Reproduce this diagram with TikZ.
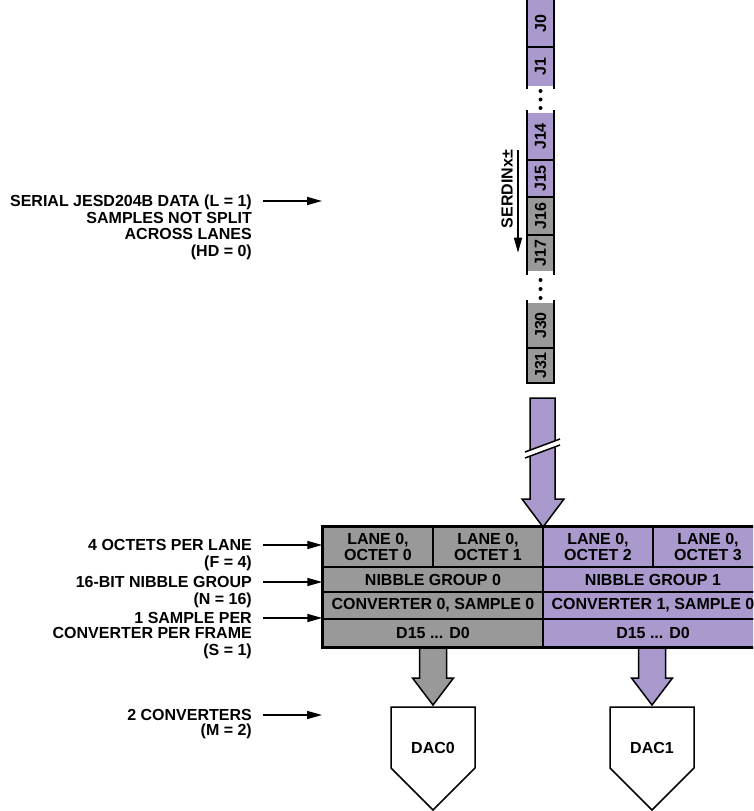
\documentclass[tikz,border=0pt]{standalone}
\usepackage{fontspec}
\setmainfont{Liberation Sans}
\usetikzlibrary{arrows.meta}
\definecolor{lanegray}{RGB}{153,153,153}
\definecolor{lanepurple}{RGB}{170,153,204}
\begin{document}
\begin{tikzpicture}[x=1pt,y=-1pt,
  txt/.style={font=\fontsize{16}{16.5}\selectfont\bfseries},
  lbl/.style={txt, align=right, anchor=north east, inner sep=0pt},
  lblarrow/.style={line width=1.5pt, -{Triangle[length=15pt,width=8pt]}},
  jcell/.style={txt, rotate=90, minimum height=27pt, inner sep=0pt},
  jline/.style={line width=1.5pt},
  tcell/.style={txt, draw=black, line width=1.5pt, inner sep=0pt, align=center},
  fatarrow/.style={draw=black, line width=1.5pt, line join=miter}]
\useasboundingbox (0,0) rectangle (753,811);
\clip (0,0) rectangle (753,811);
\node[jcell, fill=lanepurple, minimum width=47pt] (j0) at (540.5,23.5) {J0};
\node[jcell, fill=lanepurple, minimum width=39pt] (j1) at (540.5,66.5) {J1};
\node[jcell, fill=lanepurple, minimum width=47pt] (j14) at (540.5,136.5) {J14};
\node[jcell, fill=lanepurple, minimum width=37pt] (j15) at (540.5,178.5) {J15};
\node[jcell, fill=lanegray, minimum width=38pt] (j16) at (540.5,216) {J16};
\node[jcell, fill=lanegray, minimum width=36pt] (j17) at (540.5,253) {J17};
\node[jcell, fill=lanegray, minimum width=45pt] (j30) at (540.5,325.5) {J30};
\node[jcell, fill=lanegray, minimum width=35pt] (j31) at (540.5,365.5) {J31};
\draw[jline] (527,0) -- (527,89);
\draw[jline] (554,0) -- (554,89);
\draw[jline] (527,110) -- (527,275);
\draw[jline] (554,110) -- (554,275);
\draw[jline] (527,300) -- (527,383) -- (554,383) -- (554,300);
\draw[jline] (527,47) -- (554,47);
\draw[jline] (527,160) -- (554,160);
\draw[jline] (527,197) -- (554,197);
\draw[jline] (527,235) -- (554,235);
\draw[jline] (527,348) -- (554,348);
\fill (540.5,91) circle (2);
\fill (540.5,99.5) circle (2);
\fill (540.5,108) circle (2);
\fill (540.5,280) circle (2);
\fill (540.5,289) circle (2);
\fill (540.5,298) circle (2);
\node[txt, rotate=90, inner sep=0pt] (serdin) at (507,189) {SERDINx±};
\draw[lblarrow] ([xshift=11pt]serdin.east) -- ++(0,103);
\draw[fatarrow, fill=lanepurple] (530,398) -- (555,398) -- (555,499) -- (564,499) -- (543,527) -- (522,499) -- (530,499) -- cycle;
\fill[white] (525,452) -- (560,439) -- (560,445) -- (525,458) -- cycle;
\draw[line width=1.5pt] (525,452) -- (560,439);
\draw[line width=1.5pt] (525,458) -- (560,445);
\draw[fatarrow, fill=lanegray] (419.5,647) -- (446.5,647) -- (446.5,678) -- (453.5,678) -- (433,705) -- (412.5,678) -- (419.5,678) -- cycle;
\draw[fatarrow, fill=lanepurple] (638.5,647) -- (665.5,647) -- (665.5,678) -- (672.5,678) -- (652,705) -- (631.5,678) -- (638.5,678) -- cycle;
\node[tcell, fill=lanegray, minimum width=110pt, minimum height=40pt] (oct0) at (378,547) {LANE 0,\\OCTET 0};
\node[tcell, fill=lanegray, minimum width=110pt, minimum height=40pt] (oct1) at (488,547) {LANE 0,\\OCTET 1};
\node[tcell, fill=lanepurple, minimum width=110pt, minimum height=40pt] (oct2) at (598,547) {LANE 0,\\OCTET 2};
\node[tcell, fill=lanepurple, minimum width=110pt, minimum height=40pt] (oct3) at (708,547) {LANE 0,\\OCTET 3};
\node[tcell, fill=lanegray, minimum width=220pt, minimum height=25pt] (nib0) at (433,579.5) {NIBBLE GROUP 0};
\node[tcell, fill=lanepurple, minimum width=220pt, minimum height=25pt] (nib1) at (653,579.5) {NIBBLE GROUP 1};
\node[tcell, fill=lanegray, minimum width=220pt, minimum height=27pt] (conv0) at (433,605.5) {CONVERTER 0, SAMPLE 0};
\node[tcell, fill=lanepurple, minimum width=220pt, minimum height=27pt] (conv1) at (653,605.5) {CONVERTER 1, SAMPLE 0};
\node[tcell, fill=lanegray, minimum width=220pt, minimum height=28pt] (dat0) at (433,633) {D15 ... D0};
\node[tcell, fill=lanepurple, minimum width=220pt, minimum height=28pt] (dat1) at (653,633) {D15 ... D0};
\draw[line width=2.5pt] (oct0.north west) rectangle (dat1.south east);
\draw[line width=1.5pt, fill=white, line join=miter] (391,707) -- (475,707) -- (475,768) -- (433,810) -- (391,768) -- cycle;
\node[txt] (dac0) at (433,748) {DAC0};
\draw[line width=1.5pt, fill=white, line join=miter] (610,707) -- (694,707) -- (694,768) -- (652,810) -- (610,768) -- cycle;
\node[txt] (dac1) at (652,748) {DAC1};
\node[lbl] (serlbl) at (252,195) {SERIAL JESD204B DATA (L = 1)\\SAMPLES NOT SPLIT\\ACROSS LANES\\(HD = 0)};
\draw[lblarrow] ([xshift=11pt,yshift=-6pt]serlbl.north east) -- ++(59,0);
\node[lbl] (octlbl) at (252,539.5) {4 OCTETS PER LANE\\(F = 4)};
\draw[lblarrow] ([xshift=11pt,yshift=-5.5pt]octlbl.north east) coordinate (octin) -- (octin -| oct0.west);
\node[lbl] (niblbl) at (252,576.5) {16-BIT NIBBLE GROUP\\(N = 16)};
\draw[lblarrow] ([xshift=11pt,yshift=-5.5pt]niblbl.north east) coordinate (nibin) -- (nibin -| nib0.west);
\node[lbl] (smplbl) at (252,612.5) {1 SAMPLE PER\\[-1.5pt]CONVERTER PER FRAME\\(S = 1)};
\draw[lblarrow] ([xshift=11pt,yshift=-5.5pt]smplbl.north east) coordinate (smpin) -- (smpin -| conv0.west);
\node[lbl] (cnvlbl) at (252,709.5) {2 CONVERTERS\\[-2pt](M = 2)};
\draw[lblarrow] ([xshift=11pt,yshift=-5.5pt]cnvlbl.north east) -- ++(59,0);
\end{tikzpicture}
\end{document}
